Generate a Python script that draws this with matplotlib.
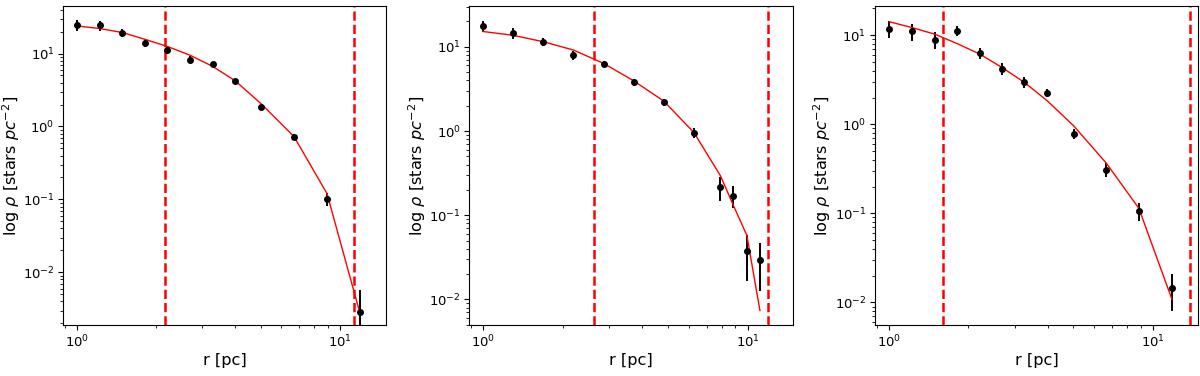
import matplotlib

matplotlib.use("Agg")
import matplotlib.pyplot as plt

# panel 1
r1 = [1.0, 1.22, 1.49, 1.81, 2.21, 2.69, 3.29, 4.0, 5.03, 6.70, 8.95, 11.9]
rho1 = [24.4, 24.4, 19.4, 14.0, 11.2, 8.28, 7.08, 4.14, 1.83, 0.728, 0.1025, 0.0029]
err1 = [4.0, 3.8, 2.5, 1.7, 1.2, 0.9, 0.55, 0.32, 0.15, 0.06, 0.02, 0.0028]
fit1 = [23.9, 22.0, 19.4, 15.7, 12.5, 9.5, 6.64, 4.24, 2.04, 0.728, 0.12, 0.0029]
vlines1 = [2.17, 11.37]
ylim1 = (0.0019, 44.8)

# panel 2
r2 = [1.0, 1.30, 1.69, 2.20, 2.86, 3.72, 4.83, 6.28, 7.90, 8.85, 9.94, 11.14]
rho2 = [17.7, 14.7, 11.5, 7.9, 6.25, 3.8, 2.2, 0.955, 0.216, 0.171, 0.0374, 0.0295]
err2 = [2.6, 2.2, 1.2, 0.95, 0.57, 0.35, 0.2, 0.12, 0.07, 0.05, 0.021, 0.017]
fit2 = [15.2, 13.7, 11.5, 9.15, 6.35, 3.93, 2.26, 0.955, 0.294, 0.130, 0.0577, 0.0074]
vlines2 = [2.62, 12.0]
ylim2 = (0.00497, 30.5)

# panel 3
r3 = [1.0, 1.22, 1.488, 1.81, 2.21, 2.68, 3.26, 3.98, 5.01, 6.67, 8.87, 11.85]
rho3 = [11.9, 11.1, 8.95, 11.3, 6.35, 4.21, 2.96, 2.26, 0.787, 0.309, 0.107, 0.01445]
err3 = [2.7, 2.4, 2.0, 1.5, 0.9, 0.65, 0.4, 0.25, 0.11, 0.055, 0.025, 0.0065]
fit3 = [14.2, 12.2, 10.3, 8.07, 6.14, 4.35, 2.96, 1.84, 0.966, 0.367, 0.114, 0.0108]
vlines3 = [1.60, 13.9]
ylim3 = (0.00558, 21.3)

panels = [
    (r1, rho1, err1, fit1, vlines1, ylim1, (0.885, 15.06)),
    (r2, rho2, err2, fit2, vlines2, ylim2, (0.888, 14.8)),
    (r3, rho3, err3, fit3, vlines3, ylim3, (0.882, 14.9)),
]
lefts = [0.0525, 0.391, 0.729]

fig = plt.figure(figsize=(12, 3.76), dpi=100)
for left, (r, rho, err, fit, vl, ylim, xlim) in zip(lefts, panels):
    ax = fig.add_axes([left, 0.1356, 0.2695, 0.8484])
    ax.errorbar(r, rho, yerr=err, fmt="o", color="black", markersize=4,
                elinewidth=1.4, ecolor="black")
    ax.plot(r, fit, color="red", lw=1)
    for v in vl:
        ax.axvline(v, color="red", ls="--", lw=1.8)
    ax.set_xscale("log")
    ax.set_yscale("log")
    ax.set_xlim(*xlim)
    ax.set_ylim(*ylim)
    ax.tick_params(labelsize=9.5, pad=2.5)
    ax.set_xlabel("r [pc]", fontsize=11.6, labelpad=2)
    ax.set_ylabel(r"log $\rho$ [stars $pc^{-2}$]", fontsize=11.6, labelpad=1)

fig.savefig("out.png", dpi=100)
